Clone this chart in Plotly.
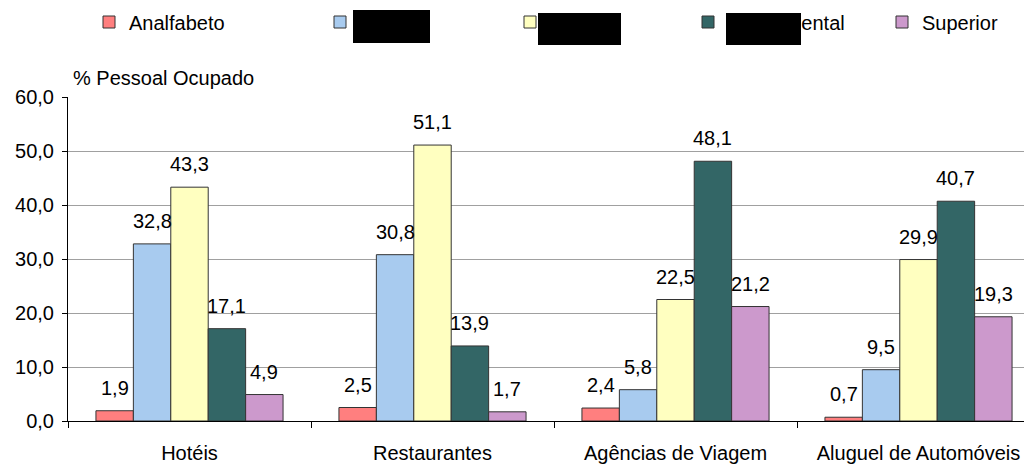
import plotly.graph_objects as go

# ---- data ----
categories = ["Hotéis", "Restaurantes", "Agências de Viagem", "Aluguel de Automóveis"]
series_names = ["Analfabeto", "Básico", "Médio", "Fundamental", "Superior"]
analfabeto = [1.9, 2.5, 2.4, 0.7]
basico = [32.8, 30.8, 5.8, 9.5]
medio = [43.3, 51.1, 22.5, 29.9]
fundamental = [17.1, 13.9, 48.1, 40.7]
superior = [4.9, 1.7, 21.2, 19.3]
series_values = [analfabeto, basico, medio, fundamental, superior]
colors = ["#FF7F7F", "#A8CBEF", "#FFFFC0", "#336666", "#CC99CC"]
y_title = "% Pessoal Ocupado"

# ---- geometry (page has an 8px body margin) ----
OFF = 8
W, H = 1024, 456
# desired plot area in window px: left 68, right 1031, top 97, bottom 421
L, T = 68 - OFF, 97 - OFF
R = W - (1031 - OFF)
B = H - (421 - OFF)
plot_w = W - L - R
plot_h = H - T - B
cat_px = 243.0
bargap = 0.23
bar_px = cat_px * (1 - bargap) / len(series_values)

def px_x(p):  # window px -> paper
    return (p - OFF - L) / plot_w

def px_y(p):
    return (H - B - (p - OFF)) / plot_h

FONT = "Arial, Liberation Sans, sans-serif"
FS = 20

# legend text start positions (window px)
legend_text_x = [130, 361, 551, 729, 923]

fig = go.Figure()
for i, (name, vals, col) in enumerate(zip(series_names, series_values, colors)):
    lid = "legend" if i == 0 else f"legend{i+1}"
    fig.add_trace(go.Bar(
        x=categories, y=vals, name=name, legend=lid, showlegend=True,
        marker=dict(color=col, line=dict(color="#333333", width=1)),
    ))

# data labels
annotations = []
n = len(series_values)
for i, vals in enumerate(series_values):
    for c, v in zip(categories, vals):
        annotations.append(dict(
            x=c, y=v, xref="x", yref="y",
            text=f"{v:.1f}".replace(".", ","), showarrow=False,
            xshift=(i - (n - 1) / 2) * bar_px, yshift=23,
            font=dict(family=FONT, size=FS, color="black"),
        ))

# axis title
annotations.append(dict(
    x=px_x(71), y=px_y(78), xref="paper", yref="paper", xanchor="left", yanchor="middle",
    text=y_title, showarrow=False, font=dict(family=FONT, size=FS, color="black"),
))

# redaction boxes over legend labels (window px)
for (x0, x1, y0, y1) in [(353, 430, 10, 43), (538, 621, 13, 45), (726, 801, 13, 45)]:
    annotations.append(dict(
        x=px_x(x0), y=px_y(y0), xref="paper", yref="paper", xanchor="left", yanchor="top",
        text=" ", showarrow=False, bgcolor="black", width=x1 - x0, height=y1 - y0,
        borderpad=0, borderwidth=0, font=dict(size=1),
    ))

layout_legends = {}
for i in range(n):
    lid = "legend" if i == 0 else f"legend{i+1}"
    layout_legends[lid] = dict(
        x=px_x(legend_text_x[i] - 41), y=px_y(22), xanchor="left", yanchor="middle",
        orientation="h", bgcolor="rgba(0,0,0,0)", borderwidth=0,
        font=dict(family=FONT, size=FS, color="black"),
    )

fig.update_layout(
    width=W, height=H,
    margin=dict(l=L, r=R, t=T, b=B, autoexpand=False),
    paper_bgcolor="white", plot_bgcolor="white",
    barmode="group", bargap=bargap, bargroupgap=0,
    separators=",.", showlegend=True,
    font=dict(family=FONT, size=FS, color="black"),
    annotations=annotations,
    **layout_legends,
)
fig.update_xaxes(
    type="category", range=[-0.5, -0.5 + plot_w / cat_px],
    showline=True, linecolor="black", linewidth=1,
    ticks="outside", tickson="boundaries", ticklen=6, tickcolor="black",
    ticklabelstandoff=14, showgrid=False,
    tickfont=dict(family=FONT, size=FS, color="black"),
)
fig.update_yaxes(
    range=[0, 60], dtick=10, tickformat=".1f",
    showline=True, linecolor="black", linewidth=1,
    ticks="outside", ticklen=5, tickcolor="black", ticklabelstandoff=4,
    showgrid=True, gridcolor="#A0A0A0", gridwidth=1, zeroline=False,
    tickfont=dict(family=FONT, size=FS, color="black"),
)

fig.write_html("out.html")
